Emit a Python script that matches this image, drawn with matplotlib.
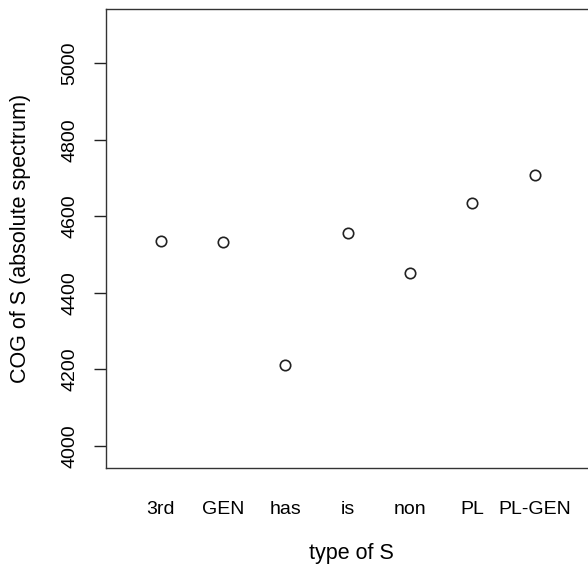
import matplotlib
matplotlib.use("Agg")
import matplotlib.pyplot as plt

plt.rcParams['font.family'] = ['Liberation Sans', 'DejaVu Sans']

categories = ["3rd", "GEN", "has", "is", "non", "PL", "PL-GEN"]
cog_values = [4536, 4533, 4212, 4557, 4452, 4635, 4708]
yticks = [4000, 4200, 4400, 4600, 4800, 5000]

W, H = 588, 571
fig = plt.figure(figsize=(W / 100, H / 100), dpi=100)
left_px, right_px, top_px, bottom_px = 106, 597, 8.7, 468
ax = fig.add_axes([left_px / W, 1 - bottom_px / H,
                   (right_px - left_px) / W, (bottom_px - top_px) / H])

xs = list(range(1, len(categories) + 1))
ax.plot(xs, cog_values, linestyle='none', marker='o', markersize=7.5,
        markerfacecolor='none', markeredgecolor='#222222', markeredgewidth=1.2)

ax.set_xlim(0.12, 8.0)
ax.set_ylim(3942.5, 5143)

ax.set_xticks(xs)
ax.set_xticklabels(categories, fontsize=14)
ax.tick_params(axis='x', length=0, pad=24)

ax.set_yticks(yticks)
ax.set_yticklabels([str(v) for v in yticks], fontsize=14, rotation=90, va='center')
ax.tick_params(axis='y', length=9, width=1, color='#222222', pad=11)

for s in ax.spines.values():
    s.set_color('#333333')
    s.set_linewidth(1)

fig.text(((left_px + right_px) / 2) / W, 1 - 553 / H, "type of S",
         ha='center', va='center', fontsize=15.5)
fig.text(21 / W, 1 - ((top_px + bottom_px) / 2) / H, "COG of S (absolute spectrum)",
         ha='center', va='center', rotation=90, fontsize=15.5)

fig.savefig("out.png", dpi=100)
